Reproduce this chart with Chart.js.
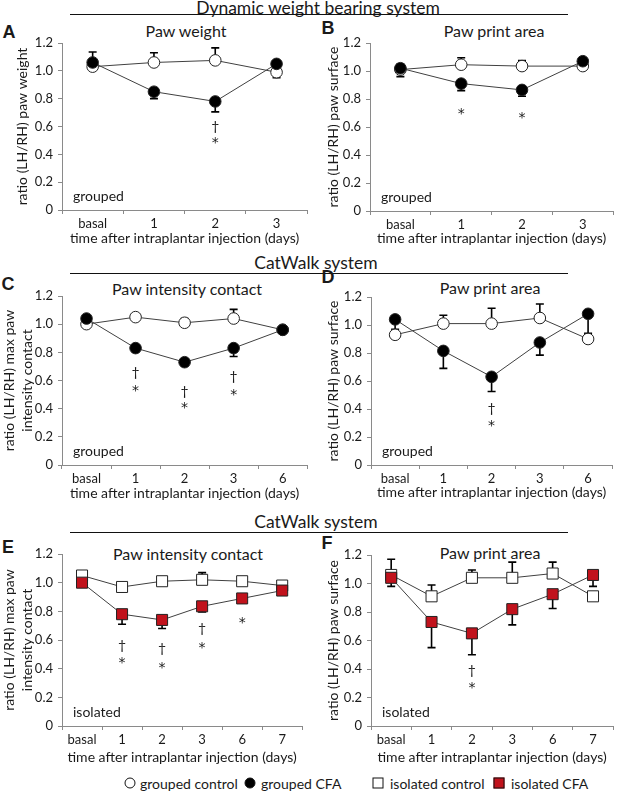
<!DOCTYPE html>
<html><head><meta charset="utf-8">
<script src="https://cdn.jsdelivr.net/npm/chart.js@4.4.1/dist/chart.umd.min.js"></script>
<style>
html,body{margin:0;padding:0;background:#fff;}
#wrap{position:relative;width:619px;height:792px;overflow:hidden;font-family:Lato,"Open Sans",sans-serif;color:#1a1a1a;}
.abs{position:absolute;white-space:nowrap;}
.c{transform:translate(-50%,-50%);}
.lt{transform:translate(0,-50%);}
.sec{font-size:17.5px;}
.ttl{font-size:16px;}
.let{font-family:"Liberation Sans",Arial,sans-serif;font-weight:bold;font-size:18px;}
.rule{position:absolute;height:0;border-top:1.5px solid #111;}
.leg{font-size:14px;}
.mk{position:absolute;box-sizing:border-box;border:1px solid #111;transform:translate(-50%,-50%);}
canvas{position:absolute;}
</style></head><body><div id="wrap">
<div class="abs c sec" style="left:318px;top:7px">Dynamic weight bearing system</div>
<div class="rule" style="left:70px;width:498px;top:14px"></div>
<div class="abs c sec" style="left:316px;top:262px">CatWalk system</div>
<div class="rule" style="left:70px;width:498px;top:273px"></div>
<div class="abs c sec" style="left:316px;top:521px">CatWalk system</div>
<div class="rule" style="left:70px;width:498px;top:532px"></div>

<div class="abs c let" style="left:9px;top:32px">A</div>
<div class="abs c let" style="left:328px;top:28px">B</div>
<div class="abs c let" style="left:8px;top:284px">C</div>
<div class="abs c let" style="left:328px;top:277px">D</div>
<div class="abs c let" style="left:8px;top:547px">E</div>
<div class="abs c let" style="left:327px;top:543px">F</div>

<div class="abs c ttl" style="left:186px;top:30px">Paw weight</div>
<div class="abs c ttl" style="left:494px;top:30px">Paw print area</div>
<div class="abs c ttl" style="left:187px;top:288px">Paw intensity contact</div>
<div class="abs c ttl" style="left:490px;top:287px">Paw print area</div>
<div class="abs c ttl" style="left:188px;top:553px">Paw intensity contact</div>
<div class="abs c ttl" style="left:490px;top:552px">Paw print area</div>

<div class="mk" style="left:130px;top:783px;width:11px;height:11px;border-radius:50%;background:#fff"></div>
<div class="abs lt leg" style="left:140px;top:783px">grouped control</div>
<div class="mk" style="left:250px;top:783px;width:11px;height:11px;border-radius:50%;background:#000"></div>
<div class="abs lt leg" style="left:261px;top:783px">grouped CFA</div>
<div class="mk" style="left:378px;top:783px;width:11px;height:11px;background:#fff"></div>
<div class="abs lt leg" style="left:390px;top:783px">isolated control</div>
<div class="mk" style="left:499px;top:783px;width:11px;height:11px;background:#c1121c"></div>
<div class="abs lt leg" style="left:511px;top:783px">isolated CFA</div>
</div>
<script>
// ---------- data ----------
const daysAB = ['basal','1','2','3'];
const daysCD = ['basal','1','2','3','6'];
const daysEF = ['basal','1','2','3','6','7'];
const yTickLabels = ['0','0.2','0.4','0.6','0.8','1.0','1.2'];

// A: dynamic weight bearing, paw weight (grouped)
const A_control    = [1.03, 1.06, 1.075, 0.99];
const A_controlErr = [0, 0.07, 0.09, -0.04];
const A_cfa        = [1.06, 0.85, 0.78, 1.05];
const A_cfaErr     = [0.075, -0.05, -0.075, 0.02];
const A_dagger     = [null, null, 0.60, null];
const A_star       = [null, null, 0.50, null];

// B: dynamic weight bearing, paw print area (grouped)
const B_control    = [1.01, 1.045, 1.035, 1.035];
const B_controlErr = [-0.05, 0.05, 0.04, -0.02];
const B_cfa        = [1.02, 0.91, 0.865, 1.07];
const B_cfaErr     = [0.03, -0.05, -0.045, 0.01];
const B_dagger     = [null, null, null, null];
const B_star       = [null, 0.71, 0.685, null];

// C: CatWalk, paw intensity contact (grouped)
const C_control    = [1.00, 1.05, 1.01, 1.04, 0.96];
const C_controlErr = [0, 0, 0.03, 0.065, 0];
const C_cfa        = [1.04, 0.83, 0.73, 0.83, 0.96];
const C_cfaErr     = [0, -0.01, -0.02, -0.06, 0];
const C_dagger     = [null, 0.66, 0.52, 0.63, null];
const C_star       = [null, 0.545, 0.42, 0.515, null];

// D: CatWalk, paw print area (grouped)
const D_control    = [0.93, 1.01, 1.01, 1.05, 0.90];
const D_controlErr = [0, 0.06, 0.11, 0.10, 0];
const D_cfa        = [1.04, 0.815, 0.63, 0.875, 1.08];
const D_cfaErr     = [-0.07, -0.125, -0.105, -0.09, -0.14];
const D_dagger     = [null, null, 0.405, null, null];
const D_star       = [null, null, 0.30, null, null];

// E: CatWalk, paw intensity contact (isolated)
const E_control    = [1.05, 0.97, 1.01, 1.02, 1.01, 0.98];
const E_controlErr = [0, 0.02, 0, 0.05, 0, 0];
const E_cfa        = [1.00, 0.78, 0.74, 0.835, 0.89, 0.945];
const E_cfaErr     = [0, -0.07, -0.06, -0.04, -0.02, -0.02];
const E_dagger     = [null, 0.565, 0.54, 0.68, null, null];
const E_star       = [null, 0.46, 0.425, 0.565, 0.74, null];

// F: CatWalk, paw print area (isolated)
const F_control    = [1.06, 0.91, 1.04, 1.04, 1.07, 0.91];
const F_controlErr = [0.11, 0.08, 0.055, 0.11, 0.08, 0];
const F_cfa        = [1.04, 0.73, 0.65, 0.82, 0.925, 1.06];
const F_cfaErr     = [-0.06, -0.18, -0.15, -0.11, -0.10, -0.08];
const F_dagger     = [null, null, 0.39, null, null, null];
const F_star       = [null, null, 0.285, null, null, null];

const xTitle = 'time after intraplantar injection (days)';

// ---------- drawing ----------
const FONT = 'Lato';
const AXIS = '#8a8a8a';
const TXT = '#1a1a1a';
const RED = '#c1121c';
const TITLE_SIZE = 14;

const errPlugin = {
  id: 'err',
  beforeDatasetsDraw(chart) {
    const ctx = chart.ctx, y = chart.scales.y;
    ctx.save();
    ctx.strokeStyle = '#000';
    ctx.lineWidth = 1.6;
    chart.data.datasets.forEach((ds, di) => {
      const meta = chart.getDatasetMeta(di);
      (ds.err || []).forEach((e, i) => {
        if (!e) return;
        const p = meta.data[i];
        const y1 = y.getPixelForValue(ds.data[i] + e);
        ctx.beginPath();
        ctx.moveTo(p.x, p.y); ctx.lineTo(p.x, y1);
        ctx.moveTo(p.x - 4, y1); ctx.lineTo(p.x + 4, y1);
        ctx.stroke();
      });
    });
    ctx.restore();
  }
};
const notePlugin = {
  id: 'notes',
  afterDatasetsDraw(chart, args, opts) {
    const ctx = chart.ctx, x = chart.scales.x, y = chart.scales.y, a = chart.chartArea;
    ctx.save();
    ctx.fillStyle = TXT;
    ctx.textAlign = 'center';
    ctx.textBaseline = 'middle';
    ctx.font = '14px ' + FONT;
    (opts.dagger || []).forEach((v, i) => { if (v != null) ctx.fillText('\u2020', x.getPixelForValue(i), y.getPixelForValue(v)); });
    ctx.font = '14px "DejaVu Sans"';
    (opts.star || []).forEach((v, i) => { if (v != null) ctx.fillText('*', x.getPixelForValue(i), y.getPixelForValue(v) + 3); });
    ctx.textAlign = 'left';
    ctx.font = '14px ' + FONT;
    ctx.fillText(opts.group, a.left + 11, a.bottom - 14);
    ctx.restore();
  }
};

function panel(o) {
  const cLeft = o.cLeft, cTop = o.T - 14, cBottom = o.xTitleY + 10;
  const w = o.R + 4 - cLeft, h = cBottom - cTop;
  const cv = document.createElement('canvas');
  cv.width = w; cv.height = h;
  cv.style.left = cLeft + 'px'; cv.style.top = cTop + 'px';
  cv.style.width = w + 'px'; cv.style.height = h + 'px';
  document.getElementById('wrap').appendChild(cv);
  const sq = o.square;
  const two = Array.isArray(o.yTitle);
  const yLH = two ? 1.3 : 1.2;
  const yTitlePad = two ? 0 : Math.max(0, o.yTitleX - cLeft - TITLE_SIZE * yLH / 2);
  new Chart(cv, {
    type: 'line',
    data: {
      labels: o.labels,
      datasets: [
        { label: sq ? 'isolated CFA' : 'grouped CFA', data: o.cfa, err: o.cfaErr,
          borderColor: '#404040', borderWidth: 1, tension: 0,
          pointStyle: sq ? 'rect' : 'circle', pointRadius: sq ? 7.8 : 5.8,
          pointBackgroundColor: sq ? RED : '#000', pointBorderColor: '#222', pointBorderWidth: 1 },
        { label: sq ? 'isolated control' : 'grouped control', data: o.ctrl, err: o.ctrlErr,
          borderColor: '#404040', borderWidth: 1, tension: 0,
          pointStyle: sq ? 'rect' : 'circle', pointRadius: sq ? 7.8 : 5.8,
          pointBackgroundColor: '#fff', pointBorderColor: '#222', pointBorderWidth: 1 }
      ]
    },
    options: {
      responsive: false, animation: false, devicePixelRatio: 1,
      layout: { padding: { left: 0, top: 14, right: 4, bottom: 0 } },
      plugins: {
        legend: { display: false }, tooltip: { enabled: false },
        notes: { dagger: o.dagger, star: o.star, group: o.group }
      },
      scales: {
        x: {
          type: 'category', offset: true,
          grid: { offset: true, drawOnChartArea: false, drawTicks: true, tickLength: 4, color: AXIS },
          border: { color: AXIS, width: 1 },
          ticks: { font: { family: FONT, size: 13 }, color: TXT, padding: 2, maxRotation: 0, autoSkip: false },
          title: { display: true, text: xTitle, color: TXT, font: { family: FONT, size: TITLE_SIZE }, padding: { top: 0, bottom: 1.6 } },
          afterFit: s => { s.height = cBottom - o.B; }
        },
        y: {
          min: 0, max: 1.2,
          grid: { drawOnChartArea: false, drawTicks: true, tickLength: 4, color: AXIS },
          border: { color: AXIS, width: 1 },
          ticks: { stepSize: 0.2, padding: 5, font: { family: FONT, size: 13 }, color: TXT,
                   callback: (v, i) => yTickLabels[i] !== undefined ? yTickLabels[i] : v },
          title: { display: true, text: o.yTitle, color: TXT, font: { family: FONT, size: TITLE_SIZE, lineHeight: yLH }, padding: { top: yTitlePad, bottom: 0 } },
          afterFit: s => { s.width = o.L - cLeft; }
        }
      }
    },
    plugins: [errPlugin, notePlugin]
  });
}

const yPaw = 'ratio (LH/RH) paw weight';
const ySurf = 'ratio (LH/RH) paw surface';
const yInt = ['ratio (LH/RH) max paw', 'intensity contact'];

panel({ cLeft: 0, L: 62, R: 310, T: 43, B: 210, xTitleY: 238, yTitleX: 22, labels: daysAB, yTitle: yPaw,
        ctrl: A_control, ctrlErr: A_controlErr, cfa: A_cfa, cfaErr: A_cfaErr, dagger: A_dagger, star: A_star, group: 'grouped' });
panel({ cLeft: 312, L: 370, R: 616, T: 43, B: 211, xTitleY: 238, yTitleX: 333, labels: daysAB, yTitle: ySurf,
        ctrl: B_control, ctrlErr: B_controlErr, cfa: B_cfa, cfaErr: B_cfaErr, dagger: B_dagger, star: B_star, group: 'grouped' });
panel({ cLeft: 0, L: 62, R: 310, T: 296, B: 465, xTitleY: 493, yTitleX: 8, labels: daysCD, yTitle: yInt,
        ctrl: C_control, ctrlErr: C_controlErr, cfa: C_cfa, cfaErr: C_cfaErr, dagger: C_dagger, star: C_star, group: 'grouped' });
panel({ cLeft: 312, L: 371, R: 615, T: 297, B: 465, xTitleY: 492, yTitleX: 333, labels: daysCD, yTitle: ySurf,
        ctrl: D_control, ctrlErr: D_controlErr, cfa: D_cfa, cfaErr: D_cfaErr, dagger: D_dagger, star: D_star, group: 'grouped' });
panel({ cLeft: 0, L: 62, R: 307, T: 554, B: 726, xTitleY: 757, yTitleX: 8, labels: daysEF, yTitle: yInt, square: true,
        ctrl: E_control, ctrlErr: E_controlErr, cfa: E_cfa, cfaErr: E_cfaErr, dagger: E_dagger, star: E_star, group: 'isolated' });
panel({ cLeft: 312, L: 371, R: 618, T: 555, B: 726, xTitleY: 757, yTitleX: 333, labels: daysEF, yTitle: ySurf, square: true,
        ctrl: F_control, ctrlErr: F_controlErr, cfa: F_cfa, cfaErr: F_cfaErr, dagger: F_dagger, star: F_star, group: 'isolated' });
</script>
</body></html>
